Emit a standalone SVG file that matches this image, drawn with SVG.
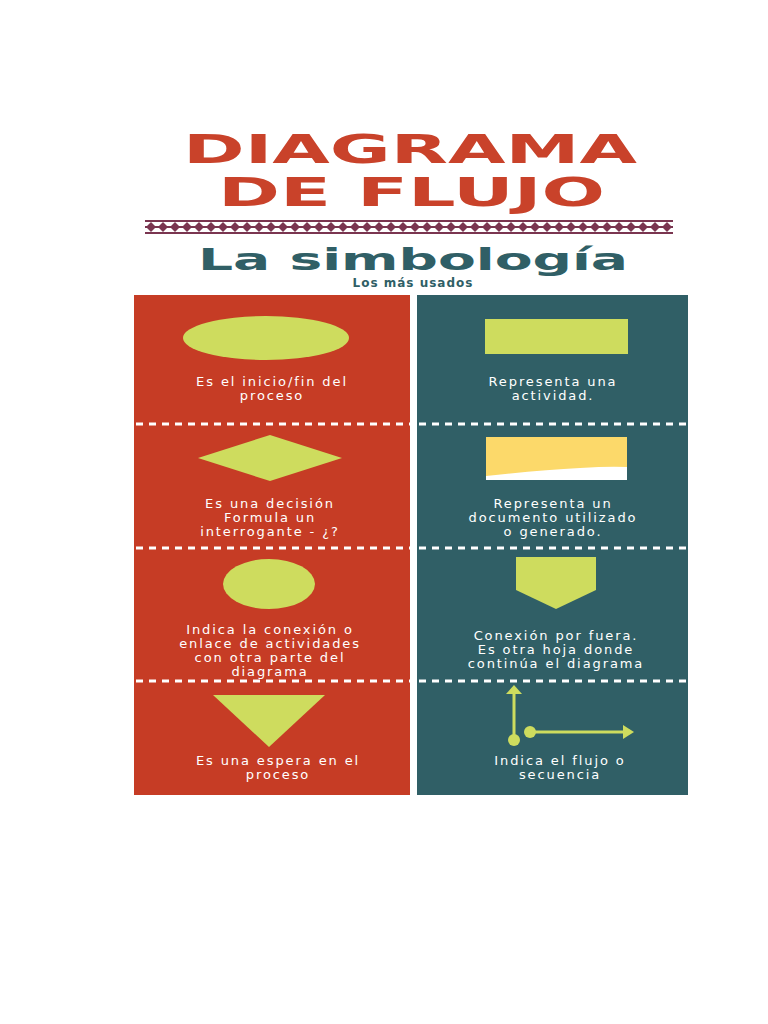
<svg xmlns="http://www.w3.org/2000/svg" width="768" height="1024" viewBox="0 0 768 1024">
<defs>
<style>
.t{font-family:"DejaVu Sans",sans-serif;font-weight:bold;fill:#c9422a}
.d{fill:#fff;font-family:"DejaVu Sans",sans-serif;font-size:13px;letter-spacing:1.9px;text-anchor:middle}
.dash{stroke:#fff;stroke-width:3;stroke-dasharray:7 6}
.s{fill:#cedc5e}
</style>
<pattern id="band" x="145" y="221" width="12" height="12" patternUnits="userSpaceOnUse">
<polygon points="6,1 11,6 6,11 1,6" fill="#7a3550"/>
<line x1="0" y1="6" x2="12" y2="6" stroke="#7a3550" stroke-width="2"/>
</pattern>
</defs>
<rect width="768" height="1024" fill="#fff"/>
<g id="header">
<text class="t" x="183" y="163" font-size="39" textLength="454" lengthAdjust="spacingAndGlyphs">DIAGRAMA</text>
<text class="t" x="218" y="206" font-size="39" textLength="387" lengthAdjust="spacingAndGlyphs">DE FLUJO</text>
<rect x="145" y="220" width="528" height="2" fill="#7a3550"/>
<rect x="145" y="221" width="528" height="12" fill="url(#band)"/>
<rect x="145" y="232" width="528" height="2" fill="#7a3550"/>
<text x="198" y="270" font-family="DejaVu Sans,sans-serif" font-weight="bold" font-size="30" fill="#305f66" textLength="430" lengthAdjust="spacingAndGlyphs">La simbología</text>
<text x="413" y="287" font-family="DejaVu Sans,sans-serif" font-weight="bold" font-size="12" fill="#305f66" text-anchor="middle" letter-spacing="1">Los más usados</text>
</g>
<g id="panels">
<rect x="134" y="295" width="276" height="500" fill="#c63c25"/>
<rect x="417" y="295" width="271" height="500" fill="#305f66"/>
</g>
<g id="dividers">
<line class="dash" x1="136" y1="424" x2="410" y2="424"/><line class="dash" x1="419" y1="424" x2="688" y2="424"/>
<line class="dash" x1="136" y1="548" x2="410" y2="548"/><line class="dash" x1="419" y1="548" x2="688" y2="548"/>
<line class="dash" x1="136" y1="681" x2="410" y2="681"/><line class="dash" x1="419" y1="681" x2="688" y2="681"/>
</g>
<g id="terminal"><ellipse class="s" cx="266" cy="338" rx="83" ry="22"/>
<text class="d" x="272" y="386">Es el inicio/fin del</text><text class="d" x="272" y="400">proceso</text></g>
<g id="process"><rect class="s" x="485" y="319" width="143" height="35"/>
<text class="d" x="553" y="386">Representa una</text><text class="d" x="553" y="400">actividad.</text></g>
<g id="decision"><polygon class="s" points="198,458 270,435 342,458 270,481"/>
<text class="d" x="270" y="508">Es una decisión</text><text class="d" x="270" y="522">Formula un</text><text class="d" x="270" y="536">interrogante - ¿?</text></g>
<g id="document"><rect x="486" y="437" width="141" height="43" fill="#fcd96a"/>
<path d="M486,480 L486,476 Q540,470 580,468 Q610,466 627,467 L627,480 Z" fill="#fff"/>
<text class="d" x="553" y="508">Representa un</text><text class="d" x="553" y="522">documento utilizado</text><text class="d" x="553" y="536">o generado.</text></g>
<g id="connector"><ellipse class="s" cx="269" cy="584" rx="46" ry="25"/>
<text class="d" x="270" y="634">Indica la conexión o</text><text class="d" x="270" y="648">enlace de actividades</text><text class="d" x="270" y="662">con otra parte del</text><text class="d" x="270" y="676">diagrama</text></g>
<g id="offpage"><polygon class="s" points="516,557 596,557 596,590 556,609 516,590"/>
<text class="d" x="556" y="640">Conexión por fuera.</text><text class="d" x="556" y="654">Es otra hoja donde</text><text class="d" x="556" y="668">continúa el diagrama</text></g>
<g id="wait"><polygon class="s" points="213,695 325,695 269,747"/>
<text class="d" x="278" y="765">Es una espera en el</text><text class="d" x="278" y="779">proceso</text></g>
<g id="flow">
<line x1="514" y1="739" x2="514" y2="693" stroke="#cedc5e" stroke-width="3"/>
<polygon class="s" points="506,694 522,694 514,685"/>
<circle class="s" cx="514" cy="740" r="6"/>
<line x1="530" y1="732" x2="624" y2="732" stroke="#cedc5e" stroke-width="3"/>
<polygon class="s" points="623,725 634,732 623,739"/>
<circle class="s" cx="530" cy="732" r="6"/>
<text class="d" x="560" y="765">Indica el flujo o</text><text class="d" x="560" y="779">secuencia</text></g>
</svg>
